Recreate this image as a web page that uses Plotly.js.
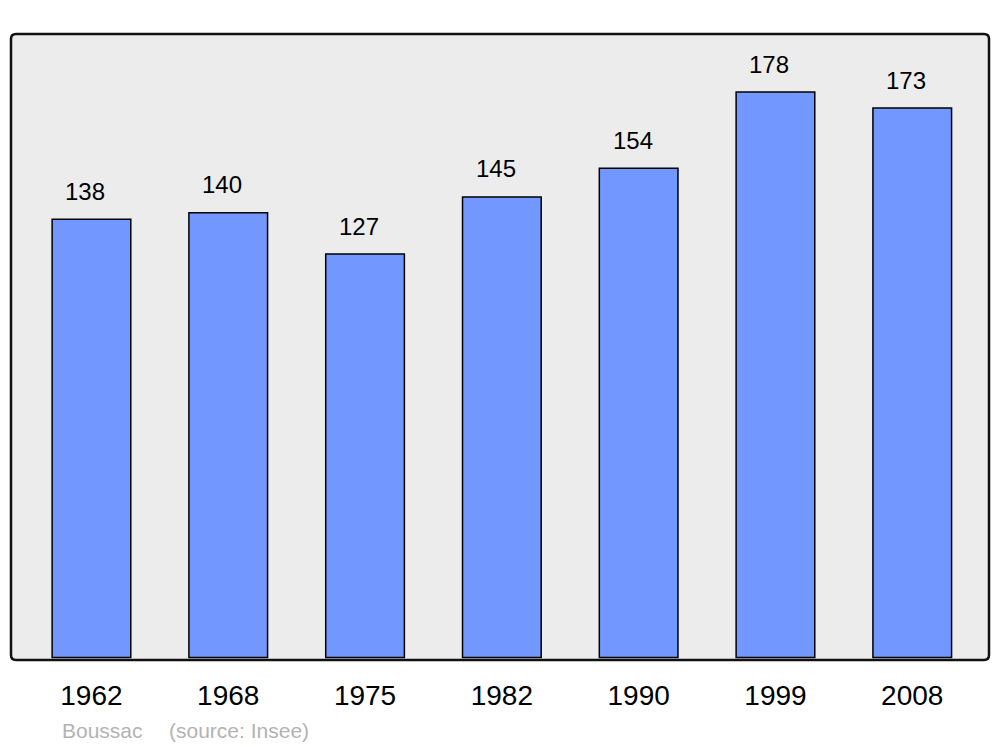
<!DOCTYPE html>
<html>
<head>
<meta charset="utf-8">
<script src="https://cdn.plot.ly/plotly-3.0.1.min.js"></script>
<style>html,body{margin:0;padding:0;background:#fff;}#chart{width:1000px;height:747px;}</style>
</head>
<body>
<div id="chart"></div>
<script>
const years = ["1962", "1968", "1975", "1982", "1990", "1999", "2008"];
const population = [138, 140, 127, 145, 154, 178, 173];
const placeName = "Boussac";
const sourceText = "(source: Insee)";

const W = 978, H = 626;
const rx = 5 / W, ry = 5 / H;
const framePath =
  `M ${rx},0 L ${1 - rx},0 Q 1,0 1,${ry} L 1,${1 - ry} Q 1,1 ${1 - rx},1 ` +
  `L ${rx},1 Q 0,1 0,${1 - ry} L 0,${ry} Q 0,0 ${rx},0 Z`;

const trace = {
  type: "bar",
  x: years,
  y: population,
  width: 0.575,
  marker: { color: "#7298ff", line: { color: "#000", width: 1.5 } },
  hoverinfo: "x+y"
};

const valueLabels = years.map((yr, i) => ({
  x: i, y: population[i], xref: "x", yref: "y",
  text: String(population[i]), showarrow: false,
  yshift: 28, xshift: -6,
  font: { family: "Liberation Sans, Arial, sans-serif", size: 24, color: "#000" }
}));

const layout = {
  width: 1000, height: 747,
  margin: { l: 11, r: 11, t: 34, b: 87 },
  paper_bgcolor: "#fff",
  plot_bgcolor: "#ececec",
  showlegend: false,
  font: { family: "Liberation Sans, Arial, sans-serif" },
  xaxis: {
    type: "category",
    range: [-0.588, 6.561],
    showgrid: false, zeroline: false, showline: false,
    ticks: "", ticklabelstandoff: 16,
    tickfont: { size: 28, color: "#000" }
  },
  yaxis: {
    range: [-0.8, 196.3],
    showgrid: false, zeroline: false, showline: false,
    showticklabels: false, ticks: ""
  },
  shapes: [{
    type: "path", xref: "paper", yref: "paper", path: framePath,
    line: { color: "#111", width: 2.5 }, fillcolor: "rgba(0,0,0,0)", layer: "above"
  }],
  annotations: valueLabels.concat([
    { xref: "paper", yref: "paper", x: (60 - 11) / W, y: -(730 - 660) / H,
      xanchor: "left", yanchor: "middle", text: placeName, showarrow: false,
      font: { size: 21, color: "#b3b3b3" } },
    { xref: "paper", yref: "paper", x: (167 - 11) / W, y: -(730 - 660) / H,
      xanchor: "left", yanchor: "middle", text: sourceText, showarrow: false,
      font: { size: 21, color: "#b3b3b3" } }
  ])
};

Plotly.newPlot("chart", [trace], layout, { displayModeBar: false, staticPlot: true });
</script>
</body>
</html>
